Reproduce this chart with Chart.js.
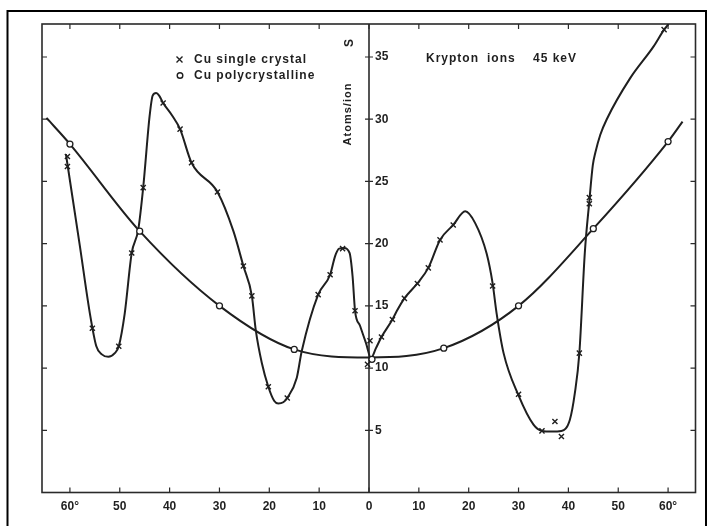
<!DOCTYPE html>
<html>
<head>
<meta charset="utf-8">
<script src="https://cdn.jsdelivr.net/npm/chart.js@4.4.1/dist/chart.umd.min.js"></script>
<style>
  html, body { margin: 0; padding: 0; background: #fff; }
  canvas { display: block; }
</style>
</head>
<body>
<canvas id="sputterChart" width="713" height="526"></canvas>
<script>
// angle of incidence in degrees, left half stored as negative values
const xTicks = [-60, -50, -40, -30, -20, -10, 0, 10, 20, 30, 40, 50, 60];
const xTickLabels = ['60°', '50', '40', '30', '20', '10', '0', '10', '20', '30', '40', '50', '60°'];
const yTicks = [5, 10, 15, 20, 25, 30, 35];
const yTickLabels = ['5', '10', '15', '20', '25', '30', '35'];

// Cu single crystal - measured points (x marks)
const singleX = [-60.5, -60.5, -55.5, -50.2, -47.6, -45.3, -41.3, -37.9, -35.6, -30.4, -25.2, -23.5, -20.2, -16.4,
  -10.2, -7.8, -5.3, -2.8, -0.3, 0.2, 2.5, 4.7, 7.1, 9.7, 11.9, 14.25, 16.9, 24.8, 30.0, 34.7, 37.3, 38.6, 42.2,
  44.2, 44.2, 59.2];
const singleY = [27.0, 26.2, 13.2, 11.75, 19.25, 24.5, 31.3, 29.2, 26.5, 24.15, 18.2, 15.8, 8.5, 7.6,
  15.9, 17.5, 19.6, 14.6, 10.3, 12.2, 12.5, 13.9, 15.6, 16.8, 18.05, 20.3, 21.5, 16.6, 7.9, 4.95, 5.7, 4.5, 11.2,
  23.2, 23.7, 37.2];

// Cu single crystal - hand drawn curve
const singleCurveX = [-60.8, -60.5, -58.0, -56.0, -54.7, -53.6, -52.3, -51.0, -50.2, -49.0, -47.6, -46.3, -45.3,
  -44.0, -43.4, -42.7, -42.1, -41.3, -39.5, -37.9, -35.6, -30.4, -27.2, -25.2, -23.5, -22.7, -21.5, -20.2, -19.0,
  -18.2, -17.2, -16.4, -14.5, -13.5, -10.2, -7.8, -6.8, -6.0, -5.0, -3.9, -3.3, -2.8, -1.8, -0.6, 0.4, 1.4, 2.5,
  4.7, 5.6, 7.1, 9.7, 11.9, 14.25, 16.9, 19.3, 21.3, 23.6, 24.8, 25.6, 27.0, 30.0, 33.0, 34.7, 36.6, 38.6, 40.3,
  41.3, 42.2, 43.3, 44.2, 44.9, 45.4, 46.4, 47.7, 52.4, 57.1, 59.2, 60.1];
const singleCurveY = [27.2, 26.4, 19.8, 14.4, 11.75, 11.1, 10.9, 11.2, 11.75, 14.4, 19.25, 21.1, 24.5,
  30.3, 31.9, 32.1, 31.9, 31.3, 30.3, 29.2, 26.5, 24.15, 21.0, 18.2, 15.8, 13.0, 10.4, 8.5, 7.35,
  7.15, 7.25, 7.6, 9.2, 11.35, 15.9, 17.5, 19.0, 19.6, 19.65, 19.25, 17.4, 14.6, 13.4, 12.0, 10.8, 11.6, 12.5,
  13.9, 14.6, 15.6, 16.8, 18.05, 20.3, 21.5, 22.6, 21.65, 19.2, 16.8, 14.4, 11.2, 7.8, 5.45, 4.95, 4.9, 4.95, 5.85,
  8.0, 11.2, 19.3, 23.4, 26.3, 27.3, 28.75, 30.0, 33.3, 35.85, 37.2, 37.65];

// Cu polycrystalline - measured points (o marks)
const polyX = [-60, -46, -30, -15, 0.6, 15, 30, 45, 60];
const polyY = [28.0, 21.0, 15.0, 11.5, 10.7, 11.6, 15.0, 21.2, 28.2];

// Cu polycrystalline - drawn curve
const polyCurveX = [-64.7, -60, -46, -30, -15, 0, 15, 30, 45, 60, 62.9];
const polyCurveY = [30.1, 28.0, 21.0, 15.0, 11.5, 10.85, 11.6, 15.0, 21.2, 28.2, 29.8];

const toPoints = (xs, ys) => xs.map((x, i) => ({ x: x, y: ys[i] }));

const ink = '#1f1f1f';
const labelFont = '"Liberation Sans", Arial, sans-serif';

const paperFrame = {
  id: 'paperFrame',
  beforeDatasetsDraw(chart) {
    const { ctx, chartArea: a, scales: { x, y } } = chart;
    const x0 = x.getPixelForValue(0);
    ctx.save();
    ctx.strokeStyle = '#2a2a2a';
    ctx.lineWidth = 1.6;
    ctx.strokeRect(a.left, a.top, a.right - a.left, a.bottom - a.top);
    ctx.beginPath();
    ctx.moveTo(x0, a.top);
    ctx.lineTo(x0, a.bottom);
    ctx.stroke();

    // tick marks on all four sides and across the centre axis
    ctx.lineWidth = 1.2;
    ctx.beginPath();
    xTicks.forEach(v => {
      const px = x.getPixelForValue(v);
      ctx.moveTo(px, a.bottom);
      ctx.lineTo(px, a.bottom - 5);
      ctx.moveTo(px, a.top);
      ctx.lineTo(px, a.top + 5);
    });
    yTicks.forEach(v => {
      const py = y.getPixelForValue(v);
      ctx.moveTo(a.left, py);
      ctx.lineTo(a.left + 5, py);
      ctx.moveTo(a.right, py);
      ctx.lineTo(a.right - 5, py);
      ctx.moveTo(x0 - 4, py);
      ctx.lineTo(x0 + 4, py);
    });
    ctx.stroke();
    ctx.restore();
  },
  afterDraw(chart) {
    const { ctx, scales: { x, y } } = chart;
    const x0 = x.getPixelForValue(0);
    ctx.save();
    ctx.fillStyle = ink;
    ctx.textBaseline = 'middle';

    // y labels beside the centre axis
    ctx.font = 'bold 12px ' + labelFont;
    ctx.textAlign = 'left';
    yTicks.forEach((v, i) => {
      ctx.fillText(yTickLabels[i], x0 + 6, y.getPixelForValue(v));
    });

    // rotated axis title
    ctx.save();
    ctx.translate(x0 - 19, 43);
    ctx.rotate(-Math.PI / 2);
    ctx.textAlign = 'center';
    ctx.font = 'bold 12px ' + labelFont;
    ctx.fillText('S', 0, 0);
    ctx.restore();
    ctx.save();
    ctx.translate(x0 - 21, 114);
    ctx.rotate(-Math.PI / 2);
    ctx.textAlign = 'center';
    ctx.font = 'bold 11px ' + labelFont;
    ctx.letterSpacing = '1px';
    ctx.fillText('Atoms/ion', 0, 0);
    ctx.restore();

    // legend
    ctx.font = 'bold 12px ' + labelFont;
    ctx.letterSpacing = '1px';
    ctx.fillText('Cu single crystal', 194, 59.5);
    ctx.fillText('Cu polycrystalline', 194, 75.5);
    ctx.strokeStyle = ink;
    ctx.lineWidth = 1.4;
    ctx.beginPath();
    ctx.moveTo(176.5, 56.5); ctx.lineTo(182.5, 62.5);
    ctx.moveTo(182.5, 56.5); ctx.lineTo(176.5, 62.5);
    ctx.stroke();
    ctx.fillStyle = '#fff';
    ctx.beginPath();
    ctx.arc(180, 75.5, 2.8, 0, Math.PI * 2);
    ctx.fill();
    ctx.stroke();

    // run conditions
    ctx.fillStyle = ink;
    ctx.fillText('Krypton', 426, 58.5);
    ctx.fillText('ions', 487, 58.5);
    ctx.fillText('45 keV', 533, 58.5);

    // outer page frame
    ctx.letterSpacing = '0px';
    ctx.strokeStyle = '#000';
    ctx.lineWidth = 2;
    ctx.beginPath();
    ctx.moveTo(7.5, 526);
    ctx.lineTo(7.5, 11);
    ctx.lineTo(706, 11);
    ctx.lineTo(706, 526);
    ctx.stroke();
    ctx.restore();
  }
};

new Chart(document.getElementById('sputterChart'), {
  type: 'scatter',
  data: {
    datasets: [
      {
        label: 'Cu single crystal',
        data: toPoints(singleX, singleY),
        pointStyle: 'crossRot',
        pointRadius: 3.6,
        pointBorderWidth: 1.4,
        borderColor: ink,
        backgroundColor: ink,
        showLine: false,
        order: 1
      },
      {
        label: 'Cu polycrystalline',
        data: toPoints(polyX, polyY),
        pointStyle: 'circle',
        pointRadius: 3,
        pointBorderWidth: 1.3,
        borderColor: ink,
        backgroundColor: '#fff',
        showLine: false,
        order: 2
      },
      {
        label: 'single curve',
        data: toPoints(singleCurveX, singleCurveY),
        showLine: true,
        cubicInterpolationMode: 'monotone',
        borderColor: ink,
        borderWidth: 2,
        pointRadius: 0,
        order: 3
      },
      {
        label: 'poly curve',
        data: toPoints(polyCurveX, polyCurveY),
        showLine: true,
        cubicInterpolationMode: 'monotone',
        borderColor: ink,
        borderWidth: 2,
        pointRadius: 0,
        order: 4
      }
    ]
  },
  options: {
    responsive: false,
    animation: false,
    layout: { padding: { top: 24, right: 17.5, left: 0, bottom: 0 } },
    plugins: { legend: { display: false }, tooltip: { enabled: false } },
    scales: {
      x: {
        type: 'linear',
        position: 'bottom',
        min: -65.6,
        max: 65.5,
        grid: { display: false, drawTicks: false },
        border: { display: false },
        afterBuildTicks: scale => { scale.ticks = xTicks.map(v => ({ value: v })); },
        afterFit: scale => { scale.height = 33.5; },
        ticks: {
          padding: 7,
          autoSkip: false,
          maxRotation: 0,
          color: ink,
          font: { family: labelFont, size: 12, weight: 'bold' },
          callback: v => {
            const i = xTicks.indexOf(v);
            return i >= 0 ? xTickLabels[i] : '';
          }
        }
      },
      y: {
        type: 'linear',
        min: 0,
        max: 37.65,
        grid: { display: false },
        border: { display: false },
        ticks: { display: false },
        afterFit: scale => { scale.width = 42; }
      }
    }
  },
  plugins: [paperFrame]
});
</script>
</body>
</html>
